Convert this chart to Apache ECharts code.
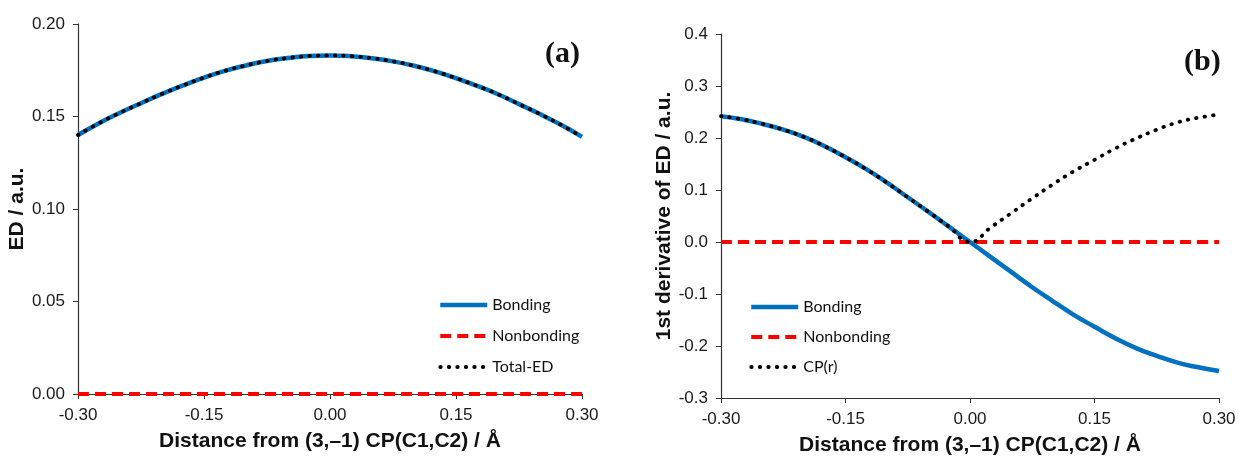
<!DOCTYPE html>
<html>
<head>
<meta charset="utf-8">
<script src="https://cdn.jsdelivr.net/npm/echarts@6/dist/echarts.min.js"></script>
<style>
html,body{margin:0;padding:0;background:#fff;}
#c{width:1239px;height:461px;}
</style>
</head>
<body>
<div id="c"></div>
<script>
// Distance from (3,-1) CP(C1,C2) / Å
const xValues = [-0.300,-0.275,-0.250,-0.225,-0.200,-0.175,-0.150,-0.125,-0.100,-0.075,-0.050,-0.025,0.000,
                 0.025,0.050,0.075,0.100,0.125,0.150,0.175,0.200,0.225,0.250,0.275,0.300];

// Panel (a): ED / a.u.
const edBonding    = [0.1400,0.1464,0.1520,0.1572,0.1622,0.1668,0.1710,0.1747,0.1776,0.1800,0.1816,0.1827,0.1830,
                      0.1826,0.1815,0.1798,0.1774,0.1744,0.1707,0.1666,0.1620,0.1567,0.1513,0.1455,0.1390];
const edNonbonding = [0,0,0,0,0,0,0,0,0,0,0,0,0,0,0,0,0,0,0,0,0,0,0,0,0];
const edTotal      = [0.1400,0.1464,0.1520,0.1572,0.1622,0.1668,0.1710,0.1747,0.1776,0.1800,0.1816,0.1827,0.1830,
                      0.1826,0.1815,0.1798,0.1774,0.1744,0.1707,0.1666,0.1620,0.1567,0.1513,0.1455,0.1390];

// Panel (b): 1st derivative of ED / a.u.
const dBonding    = [0.242,0.236,0.227,0.216,0.202,0.184,0.163,0.140,0.114,0.086,0.058,0.029,0.000,
                     -0.029,-0.058,-0.087,-0.114,-0.140,-0.163,-0.185,-0.204,-0.219,-0.232,-0.241,-0.248];
const dNonbonding = [0,0,0,0,0,0,0,0,0,0,0,0,0,0,0,0,0,0,0,0,0,0,0,0,0];
const dCP         = [0.242,0.236,0.227,0.216,0.202,0.184,0.163,0.140,0.114,0.086,0.058,0.029,0.000,
                     0.028,0.056,0.084,0.111,0.136,0.158,0.180,0.199,0.216,0.230,0.239,0.245];

const legendA = ['Bonding','Nonbonding','Total-ED'];
const legendB = ['Bonding','Nonbonding','CP(r)'];
const xTitle = 'Distance from (3,\u20131) CP(C1,C2) / \u00C5';
const yTitleA = 'ED / a.u.';
const yTitleB = '1st derivative of ED / a.u.';

function pairs(ys){ return xValues.map((x,i)=>[x, ys[i]]); }
function fmt(d){ return v => (Math.abs(v) < 1e-9 ? 0 : v).toFixed(d); }

const axisColor = '#333';
const tickFont = {fontFamily:'Liberation Sans, Arial, sans-serif', fontSize:17, color:'#1a1a1a'};
const titleFont = {fontFamily:'Liberation Sans, Arial, sans-serif', fontSize:21, fontWeight:'bold', color:'#111'};

function xAxis(gridIndex, gap){
  return {
    type:'value', gridIndex, min:-0.3, max:0.3, interval:0.15,
    name:xTitle, nameLocation:'middle', nameGap:gap, nameTextStyle:titleFont,
    axisLine:{onZero:false, lineStyle:{color:axisColor, width:1.2}},
    axisTick:{show:true, length:5, lineStyle:{color:axisColor}},
    axisLabel:Object.assign({formatter:fmt(2), margin:13}, tickFont),
    splitLine:{show:false}
  };
}
function yAxis(gridIndex, min, max, interval, dec, name, gap){
  return {
    type:'value', gridIndex, min, max, interval,
    name, nameLocation:'middle', nameGap:gap, nameTextStyle:titleFont,
    axisLine:{show:true, onZero:false, lineStyle:{color:axisColor, width:1.2}},
    axisTick:{show:true, length:5, lineStyle:{color:axisColor}},
    axisLabel:Object.assign({formatter:fmt(dec), margin:13}, tickFont),
    splitLine:{show:false}
  };
}

const blue = {color:'#0070C0', width:4.5};
const red = {color:'#FF0000', width:4, type:[11,6]};
const dots = {color:'#000', width:3.8, type:[0.5,8], cap:'round'};

function line(name, data, xi, ls, z){
  return {name, type:'line', xAxisIndex:xi, yAxisIndex:xi, data:pairs(data), smooth:true,
    symbol:'none', lineStyle:ls, itemStyle:{color:ls.color}, z, silent:true, animation:false};
}
function legendData(names){
  const widths = [4.5, 4, 3.8];
  return names.map((n,i)=>({name:n, lineStyle:{width:widths[i]}}));
}

const chart = echarts.init(document.getElementById('c'), null, {renderer:'canvas'});
chart.setOption({
  backgroundColor:'#fff',
  animation:false,
  grid:[
    {left:78, top:24, width:504, height:370},
    {left:721, top:34, width:498, height:370}
  ],
  xAxis:[xAxis(0,37), xAxis(1,37)],
  yAxis:[
    yAxis(0, 0, 0.2, 0.05, 2, yTitleA, 50),
    yAxis(1, -0.3, 0.4, 0.1, 1, yTitleB, 44)
  ],
  legend:[
    {data:legendData(legendA), orient:'vertical', left:433, top:292, itemWidth:47, itemHeight:14, itemGap:15,
     itemStyle:{opacity:0},
     textStyle:{fontFamily:'Lato, sans-serif', fontSize:16, color:'#111'}, selectedMode:false},
    {data:legendData(legendB), orient:'vertical', left:744, top:294, itemWidth:47, itemHeight:14, itemGap:14,
     itemStyle:{opacity:0},
     textStyle:{fontFamily:'Lato, sans-serif', fontSize:16, color:'#111'}, selectedMode:false}
  ],
  series:[
    line('Bonding', edBonding, 0, blue, 2),
    line('Nonbonding', edNonbonding, 0, red, 3),
    line('Total-ED', edTotal, 0, dots, 4),
    line('Bonding', dBonding, 1, blue, 2),
    line('Nonbonding', dNonbonding, 1, red, 3),
    line('CP(r)', dCP, 1, dots, 4)
  ],
  graphic:[
    {type:'text', left:545, top:39, style:{text:'(a)', font:'bold 30px "Liberation Serif", serif', fill:'#111'}},
    {type:'text', left:1184, top:47, style:{text:'(b)', font:'bold 30px "Liberation Serif", serif', fill:'#111'}}
  ]
});
</script>
</body>
</html>
